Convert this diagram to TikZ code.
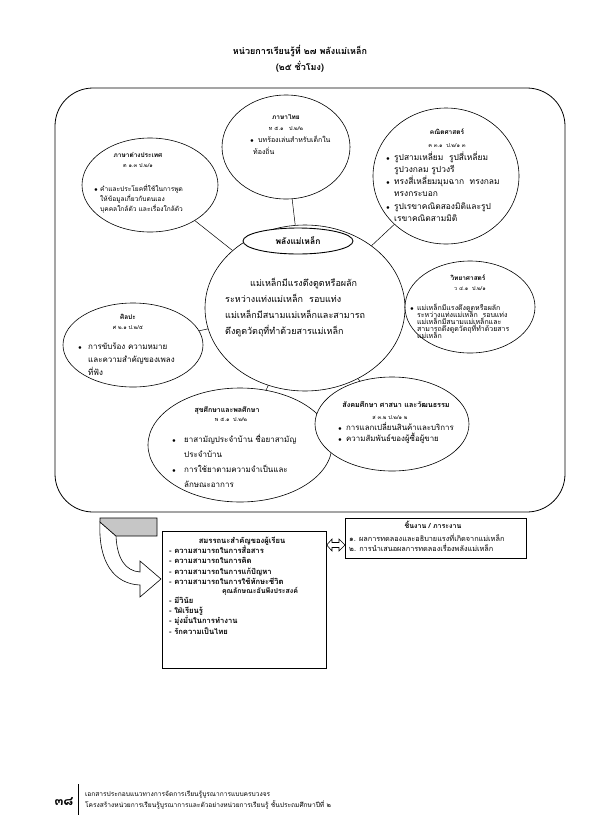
\documentclass[tikz,border=0pt]{standalone}
\usepackage{fontspec}
\newfontfamily\thai[Script=Thai]{Loma}
\usetikzlibrary{shapes.geometric}
\newcommand{\fs}[1]{\fontsize{#1}{#1}\selectfont}
\tikzset{
  circ/.style={draw, ellipse, line width=0.6pt, inner sep=0pt},
  hd/.style={font=\thai\bfseries\fs{6.5}, anchor=base, inner sep=0pt},
  cd/.style={font=\thai\fs{5.5}, anchor=base, inner sep=0pt},
  tx/.style={font=\thai\fs{7}, anchor=base west, inner sep=0pt},
  btx/.style={font=\thai\bfseries\fs{7.6}, anchor=base west, inner sep=0pt},
  bul/.style={font=\fs{6}, anchor=base, inner sep=0pt},
  link/.style={line width=0.5pt},
}
\begin{document}
\begin{tikzpicture}[x=1pt,y=-1pt]
\useasboundingbox (0,0) rectangle (595,836);
% title
\node[hd, font=\thai\bfseries\fs{9}] (t1) at (300,54) {หน่วยการเรียนรู้ที่ ๒๗ พลังแม่เหล็ก};
\node[hd, font=\thai\bfseries\fs{9}] (t2) at (300,70) {(๒๕ ชั่วโมง)};
% big frame
\draw[line width=0.8pt, rounded corners=38] (55,88) rectangle (565,512);
% ellipses
\node[circ, fill=white, minimum width=128, minimum height=104] (thaiC) at (286,147) {};
\node[circ, fill=white, minimum width=146, minimum height=136] (mathC) at (446,176) {};
\node[circ, fill=white, minimum width=136, minimum height=94] (forC) at (150,185) {};
\node[circ, fill=white, minimum width=200, minimum height=166] (cenC) at (305,308) {};
\node[circ, fill=white, minimum width=130, minimum height=92] (sciC) at (470,307) {};
\node[circ, fill=white, minimum width=140, minimum height=84] (artC) at (133,345) {};
\node[circ, fill=white, minimum width=184, minimum height=114] (heaC) at (240,445) {};
\node[circ, fill=white, minimum width=154, minimum height=94] (socC) at (392,424) {};
\node[circ, line width=0.9pt, fill=white, minimum width=110, minimum height=26] (cenT) at (298,241) {};
% connectors
\draw[link] (cenC) -- (thaiC);
\draw[link] (cenC) -- (mathC);
\draw[link] (cenC) -- (forC);
\draw[link] (cenC) -- (sciC);
\draw[link] (cenC) -- (artC);
\draw[link] (cenC) -- (heaC);
\draw[link] (cenC) -- (socC);
% Thai
\node[hd] (thaiH) at (286,119) {ภาษาไทย};
\node[cd] (thaiK) at (286,130) {ท ๕.๑ \ \ ป.๒/๒};
\node[bul] (thaiB1) at (252,142) {$\bullet$};
\node[tx] (thaiL1) at (258,142) {บทร้องเล่นสำหรับเด็กใน};
\node[tx] (thaiL2) at (253,154) {ท้องถิ่น};
% Math
\node[hd] (mathH) at (447,134) {คณิตศาสตร์};
\node[cd] (mathK) at (447,147) {ค ๓.๑ \ ป.๒/๑ ๓};
\node[bul] (mathB1) at (388,160) {$\bullet$};
\node[tx, font=\thai\fs{8.4}] (mathL1) at (394,160) {รูปสามเหลี่ยม \ รูปสี่เหลี่ยม};
\node[tx, font=\thai\fs{8.4}] (mathL2) at (394,172) {รูปวงกลม รูปวงรี};
\node[bul] (mathB2) at (388,184) {$\bullet$};
\node[tx, font=\thai\fs{8.4}] (mathL3) at (394,184) {ทรงสี่เหลี่ยมมุมฉาก \ ทรงกลม};
\node[tx, font=\thai\fs{8.4}] (mathL4) at (394,196) {ทรงกระบอก};
\node[bul] (mathB3) at (388,209) {$\bullet$};
\node[tx, font=\thai\fs{8.4}] (mathL5) at (394,209) {รูปเรขาคณิตสองมิติและรูป};
\node[tx, font=\thai\fs{8.4}] (mathL6) at (394,221) {เรขาคณิตสามมิติ};
% Foreign
\node[hd] (forH) at (138,157) {ภาษาต่างประเทศ};
\node[cd] (forK) at (138,167) {ต ๑.๓ ป.๒/๑};
\node[bul] (forB1) at (96,191) {$\bullet$};
\node[tx, font=\thai\fs{6.6}] (forL1) at (100,191) {คำและประโยคที่ใช้ในการพูด};
\node[tx, font=\thai\fs{6.6}] (forL2) at (100,201) {ให้ข้อมูลเกี่ยวกับตนเอง};
\node[tx, font=\thai\fs{6.6}] (forL3) at (100,211) {บุคคลใกล้ตัว และเรื่องใกล้ตัว};
% Center
\node[hd, font=\thai\bfseries\fs{8.5}] (cenH) at (298,244) {พลังแม่เหล็ก};
\node[tx, font=\thai\fs{9}] (cenL1) at (250,286) {แม่เหล็กมีแรงดึงดูดหรือผลัก};
\node[tx, font=\thai\fs{9}] (cenL2) at (225,302) {ระหว่างแท่งแม่เหล็ก \ รอบแท่ง};
\node[tx, font=\thai\fs{9}] (cenL3) at (225,318) {แม่เหล็กมีสนามแม่เหล็กและสามารถ};
\node[tx, font=\thai\fs{9}] (cenL4) at (225,334) {ดึงดูดวัตถุที่ทำด้วยสารแม่เหล็ก};
% Science
\node[hd] (sciH) at (468,280) {วิทยาศาสตร์};
\node[cd] (sciK) at (470,290) {ว ๔.๑ \ ป.๒/๑};
\node[bul] (sciB1) at (412,310) {$\bullet$};
\node[tx, font=\thai\fs{7}] (sciL1) at (417,310) {แม่เหล็กมีแรงดึงดูดหรือผลัก};
\node[tx, font=\thai\fs{7}] (sciL2) at (417,317) {ระหว่างแท่งแม่เหล็ก \ รอบแท่ง};
\node[tx, font=\thai\fs{7}] (sciL3) at (417,324) {แม่เหล็กมีสนามแม่เหล็กและ};
\node[tx, font=\thai\fs{7}] (sciL4) at (417,331) {สามารถดึงดูดวัตถุที่ทำด้วยสาร};
\node[tx, font=\thai\fs{7}] (sciL5) at (417,338) {แม่เหล็ก};
% Art
\node[hd] (artH) at (128,319) {ศิลปะ};
\node[cd] (artK) at (128,329) {ศ ๒.๑ ป.๒/๕};
\node[bul] (artB1) at (80,349) {$\bullet$};
\node[tx, font=\thai\fs{8}] (artL1) at (88,349) {การขับร้อง ความหมาย};
\node[tx, font=\thai\fs{8}] (artL2) at (88,362) {และความสำคัญของเพลง};
\node[tx, font=\thai\fs{8}] (artL3) at (88,375) {ที่ฟัง};
% Health
\node[hd, font=\thai\bfseries\fs{7}] (heaH) at (227,412) {สุขศึกษาและพลศึกษา};
\node[cd] (heaK) at (231,421) {พ ๕.๑ \ ป.๒/๒};
\node[bul] (heaB1) at (174,442) {$\bullet$};
\node[tx, font=\thai\fs{8}] (heaL1) at (184,442) {ยาสามัญประจำบ้าน ชื่อยาสามัญ};
\node[tx, font=\thai\fs{8}] (heaL2) at (184,457) {ประจำบ้าน};
\node[bul] (heaB2) at (174,472) {$\bullet$};
\node[tx, font=\thai\fs{8}] (heaL3) at (184,472) {การใช้ยาตามความจำเป็นและ};
\node[tx, font=\thai\fs{8}] (heaL4) at (184,487) {ลักษณะอาการ};
% Social
\node[hd, font=\thai\bfseries\fs{7.2}] (socH) at (396,407) {สังคมศึกษา ศาสนา และวัฒนธรรม};
\node[cd] (socK) at (390,419) {ส ๓.๒ ป.๒/๑ ๒};
\node[bul] (socB1) at (340,430) {$\bullet$};
\node[tx, font=\thai\fs{7.9}] (socL1) at (346,430) {การแลกเปลี่ยนสินค้าและบริการ};
\node[bul] (socB2) at (340,441) {$\bullet$};
\node[tx, font=\thai\fs{7.9}] (socL2) at (346,441) {ความสัมพันธ์ของผู้ซื้อผู้ขาย};
% work box
\node[draw, line width=0.7pt, fill=white, minimum width=181, minimum height=40, anchor=north west, inner sep=0pt] (work) at (345,518) {};
\node[hd, font=\thai\bfseries\fs{7}] (workH) at (433,528) {ชิ้นงาน / ภาระงาน};
\node[tx, font=\thai\fs{7.3}] (workL1) at (349,541) {๑. ผลการทดลองและอธิบายแรงที่เกิดจากแม่เหล็ก};
\node[tx, font=\thai\fs{7.3}] (workL2) at (349,551) {๒. การนำเสนอผลการทดลองเรื่องพลังแม่เหล็ก};
% competency box
\node[draw, line width=0.7pt, minimum width=164, minimum height=137, anchor=north west, inner sep=0pt] (comp) at (162,531) {};
\node[hd, font=\thai\bfseries\fs{7.6}] (compH) at (242,543) {สมรรถนะสำคัญของผู้เรียน};
\node[btx] (compL1) at (169,553) {- ความสามารถในการสื่อสาร};
\node[btx] (compL2) at (169,563) {- ความสามารถในการคิด};
\node[btx] (compL3) at (169,574) {- ความสามารถในการแก้ปัญหา};
\node[btx] (compL4) at (169,584) {- ความสามารถในการใช้ทักษะชีวิต};
\node[hd, font=\thai\bfseries\fs{7}] (compH2) at (260,593) {คุณลักษณะอันพึงประสงค์};
\node[btx] (compL5) at (169,603) {- มีวินัย};
\node[btx] (compL6) at (169,613) {- ใฝ่เรียนรู้};
\node[btx] (compL7) at (169,623) {- มุ่งมั่นในการทำงาน};
\node[btx] (compL8) at (169,634) {- รักความเป็นไทย};
% double arrow between boxes
\draw[line width=0.6pt, fill=white] (comp.east |- 0,545) -- (332,539) -- (332,542.5) -- (339,542.5) -- (339,539) -- (work.west |- 0,545) -- (339,551) -- (339,547.5) -- (332,547.5) -- (332,551) -- cycle;
% curved block arrow
\draw[line width=0.6pt, fill=white] (100,522) .. controls (98,562) and (114,584) .. (140,585) -- (140,597) -- (161,579) -- (140,561) -- (140,572) .. controls (125,571) and (117,558) .. (116,536) -- cycle;
\draw[line width=0.6pt, fill=gray!45] (100,518) -- (157,518) -- (157,536) -- (116,536) -- (100,522) -- cycle;
% footer
\node[hd, font=\thai\bfseries\fs{13}] (pg) at (64,805) {๓๘};
\coordinate (barT) at (78,784);
\coordinate (barB) at (78,815);
\draw[line width=0.8pt] (barT) -- (barB);
\node[tx, font=\thai\fs{6.6}] (ft1) at (85,796) {เอกสารประกอบแนวทางการจัดการเรียนรู้บูรณาการแบบครบวงจร};
\node[tx, font=\thai\fs{6.6}] (ft2) at (85,807) {โครงสร้างหน่วยการเรียนรู้บูรณาการและตัวอย่างหน่วยการเรียนรู้ ชั้นประถมศึกษาปีที่ ๒};
\end{tikzpicture}
\end{document}
